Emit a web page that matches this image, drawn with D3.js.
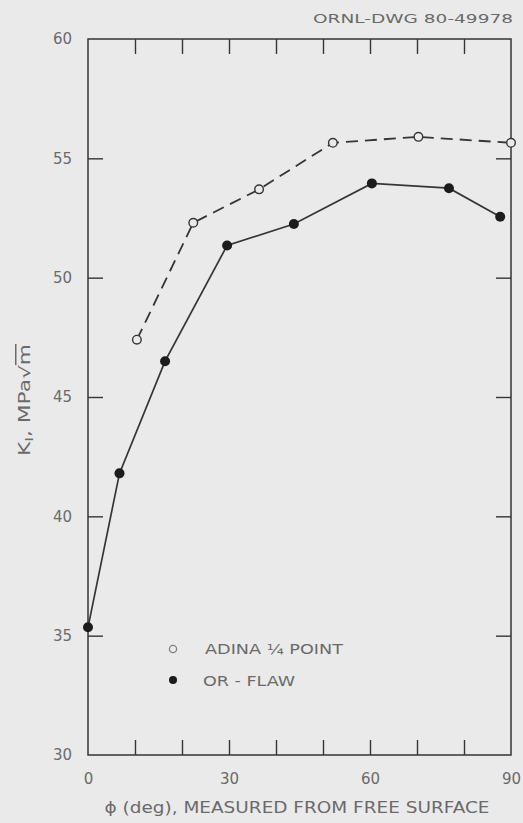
<!DOCTYPE html>
<html>
<head>
<meta charset="utf-8">
<script src="https://cdn.jsdelivr.net/npm/d3@7"></script>
<style>
  body { margin: 0; background: #eaeaea; }
  svg { display: block; }
  text { font-family: "DejaVu Sans", sans-serif; fill: #6a6a6a; }
</style>
</head>
<body>
<div id="chart"></div>
<script>

// values
var adinaPhi = [10.4, 22.4, 36.4, 52.1, 70.3, 90];
var adinaK = [47.4, 52.3, 53.7, 55.65, 55.9, 55.65];

var orPhi = [0, 6.7, 16.4, 29.6, 43.8, 60.4, 76.8, 87.7];
var orK = [35.35, 41.8, 46.5, 51.35, 52.25, 53.95, 53.75, 52.55];

var xLabels = [0, 30, 60, 90];
var xMinor = [10, 20, 30, 40, 50, 60, 70, 80];
var yLabels = [30, 35, 40, 45, 50, 55, 60];
var yMinor = [35, 40, 45, 50, 55];

var legendNames = ["ADINA \u00bc POINT", "OR - FLAW"];

var W = 523, H = 823;
var margin = {top: 39, right: 12, bottom: 68, left: 88};
var width = W - margin.left - margin.right;
var height = H - margin.top - margin.bottom;

var ink = "#353535";

var svg = d3.select("#chart")
  .append("svg")
  .attr("width", W)
  .attr("height", H);

var g = svg.append("g")
  .attr("transform", "translate(" + margin.left + "," + margin.top + ")");

var x = d3.scaleLinear().domain([0, 90]).range([0, width]);
var y = d3.scaleLinear().domain([30, 60]).range([height, 0]);

// frame
g.append("rect")
  .attr("x", 0).attr("y", 0)
  .attr("width", width).attr("height", height)
  .attr("fill", "none")
  .attr("stroke", ink)
  .attr("stroke-width", 1.5);

// inward ticks on all four sides
function tickStyle(sel) {
  sel.select(".domain").remove();
  sel.selectAll("line").attr("stroke", ink).attr("stroke-width", 1.4);
}

g.append("g")
  .attr("transform", "translate(0," + height + ")")
  .call(d3.axisBottom(x).tickValues(xMinor).tickSizeInner(-15).tickSizeOuter(0).tickFormat(""))
  .call(tickStyle);

g.append("g")
  .call(d3.axisTop(x).tickValues(xMinor).tickSizeInner(-15).tickSizeOuter(0).tickFormat(""))
  .call(tickStyle);

g.append("g")
  .call(d3.axisLeft(y).tickValues(yMinor).tickSizeInner(-15).tickSizeOuter(0).tickFormat(""))
  .call(tickStyle);

g.append("g")
  .attr("transform", "translate(" + width + ",0)")
  .call(d3.axisRight(y).tickValues(yMinor).tickSizeInner(-15).tickSizeOuter(0).tickFormat(""))
  .call(tickStyle);

// tick labels
var xl = g.append("g")
  .attr("transform", "translate(0," + height + ")")
  .call(d3.axisBottom(x).tickValues(xLabels).tickSize(0).tickPadding(18).tickFormat(d3.format("d")));
xl.select(".domain").remove();
xl.selectAll("text")
  .style("font-size", "15px")
  .style("font-family", "DejaVu Sans")
  .attr("fill", "#6a6a6a");

var yl = g.append("g")
  .call(d3.axisLeft(y).tickValues(yLabels).tickSize(0).tickPadding(16).tickFormat(d3.format("d")));
yl.select(".domain").remove();
yl.selectAll("text")
  .style("font-size", "15px")
  .style("font-family", "DejaVu Sans")
  .attr("fill", "#6a6a6a");

// lines
var line = d3.line()
  .x(function(d) { return x(d[0]); })
  .y(function(d) { return y(d[1]); });

var adina = adinaPhi.map(function(p, i) { return [p, adinaK[i]]; });
var orflaw = orPhi.map(function(p, i) { return [p, orK[i]]; });

g.append("path")
  .datum(adina)
  .attr("d", line)
  .attr("fill", "none")
  .attr("stroke", ink)
  .attr("stroke-width", 1.8)
  .attr("stroke-dasharray", "12,7");

g.append("path")
  .datum(orflaw)
  .attr("d", line)
  .attr("fill", "none")
  .attr("stroke", ink)
  .attr("stroke-width", 1.7);

g.selectAll(".open")
  .data(adina)
  .enter()
  .append("circle")
  .attr("class", "open")
  .attr("cx", function(d) { return x(d[0]); })
  .attr("cy", function(d) { return y(d[1]); })
  .attr("r", 4.3)
  .attr("fill", "#eaeaea")
  .attr("stroke", ink)
  .attr("stroke-width", 1.4);

g.selectAll(".filled")
  .data(orflaw)
  .enter()
  .append("circle")
  .attr("class", "filled")
  .attr("cx", function(d) { return x(d[0]); })
  .attr("cy", function(d) { return y(d[1]); })
  .attr("r", 5)
  .attr("fill", "#1c1c1c");

// legend
svg.append("circle")
  .attr("cx", 173).attr("cy", 649).attr("r", 3.6)
  .attr("fill", "none").attr("stroke", "#808080").attr("stroke-width", 1.3);
svg.append("circle")
  .attr("cx", 173).attr("cy", 680).attr("r", 4)
  .attr("fill", "#1c1c1c");

svg.append("text")
  .attr("x", 205).attr("y", 654)
  .style("font-size", "14px")
  .attr("textLength", 138).attr("lengthAdjust", "spacingAndGlyphs")
  .text(legendNames[0]);
svg.append("text")
  .attr("x", 203).attr("y", 686)
  .style("font-size", "14px")
  .attr("textLength", 92).attr("lengthAdjust", "spacingAndGlyphs")
  .text(legendNames[1]);

// titles
svg.append("text")
  .attr("x", 313).attr("y", 23)
  .style("font-size", "13px")
  .attr("textLength", 200).attr("lengthAdjust", "spacingAndGlyphs")
  .text("ORNL-DWG  80-49978");

svg.append("text")
  .attr("x", 297).attr("y", 813)
  .attr("text-anchor", "middle")
  .style("font-size", "15px")
  .attr("textLength", 385).attr("lengthAdjust", "spacingAndGlyphs")
  .text("\u03d5 (deg), MEASURED FROM FREE SURFACE");

var yt = svg.append("text")
  .attr("transform", "translate(30,400) rotate(-90)")
  .attr("text-anchor", "middle")
  .attr("textLength", 112).attr("lengthAdjust", "spacingAndGlyphs")
  .style("font-size", "15px");
yt.append("tspan").text("K");
yt.append("tspan").attr("baseline-shift", "-25%").style("font-size", "11px").text("I");
yt.append("tspan").text(", MPa\u221a");
yt.append("tspan").style("text-decoration", "overline").text("m");

</script>
</body>
</html>
